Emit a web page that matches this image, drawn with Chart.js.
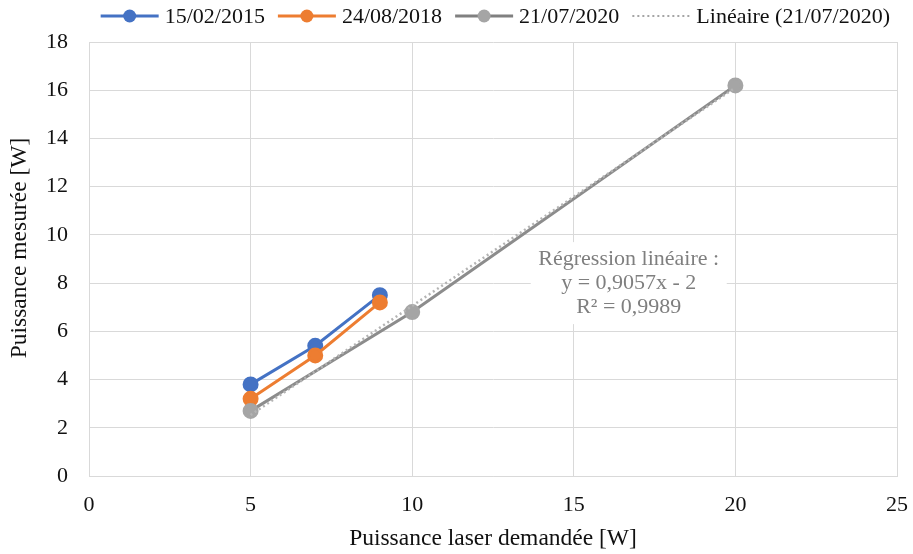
<!DOCTYPE html>
<html lang="fr">
<head>
  <meta charset="UTF-8">
  <title>Puissance laser</title>
  <script src="https://cdn.jsdelivr.net/npm/chart.js"></script>
  <style>
    html, body { margin: 0; padding: 0; background: #fff; }
    #wrap { width: 913px; height: 554px; }
  </style>
</head>
<body>
  <div id="wrap"><canvas id="chart" width="913" height="554"></canvas></div>

  <script>
    // values
    const seriesNames = ['15/02/2015', '24/08/2018', '21/07/2020'];
    const x2015 = [5, 7, 9];
    const y2015 = [3.8, 5.4, 7.5];
    const x2018 = [5, 7, 9];
    const y2018 = [3.2, 5.0, 7.2];
    const x2020 = [5, 10, 20];
    const y2020 = [2.7, 6.8, 16.2];
    const trendName = 'Linéaire (21/07/2020)';
    const trendX = [5, 20];
    const trendY = [2.53, 16.11];
    const noteLines = ['Régression linéaire :', 'y = 0,9057x - 2', 'R² = 0,9989'];
    const xTicks = [0, 5, 10, 15, 20, 25];
    const yTicks = [0, 2, 4, 6, 8, 10, 12, 14, 16, 18];
    const yTitle = 'Puissance mesurée [W]';

    const FONT = '"Liberation Serif", "Times New Roman", serif';

    function pts(xs, ys) {
      return xs.map((x, i) => ({ x: x, y: ys[i] }));
    }

    // legend entries: label, line colour, dot colour, dotted?
    const legendItems = [
      [seriesNames[0], '#4472C4', '#4472C4', false],
      [seriesNames[1], '#ED7D31', '#ED7D31', false],
      [seriesNames[2], '#808080', '#A5A5A5', false],
      [trendName, '#A5A5A5', null, true]
    ];

    // legend drawn by hand (Excel style: line with dot), the y title, and the regression note
    const extrasPlugin = {
      id: 'extras',
      beforeDatasetsDraw(chart) {
        const ctx = chart.ctx;
        const cx = chart.scales.x.getPixelForValue(16.7);
        const cy = chart.scales.y.getPixelForValue(8);
        ctx.save();
        ctx.fillStyle = '#fff';
        ctx.fillRect(cx - 98, cy - 41, 196, 82);
        ctx.font = '22px ' + FONT;
        ctx.fillStyle = '#7F7F7F';
        ctx.textAlign = 'center';
        ctx.textBaseline = 'middle';
        noteLines.forEach((t, i) => ctx.fillText(t, cx, cy + (i - 1) * 24));
        ctx.restore();
      },
      afterDraw(chart) {
        const ctx = chart.ctx;
        const area = chart.chartArea;

        // y axis title, sitting a little above the middle like in Excel
        ctx.save();
        ctx.translate(20, (area.top + area.bottom) / 2 - 11);
        ctx.rotate(-Math.PI / 2);
        ctx.font = '23.5px ' + FONT;
        ctx.fillStyle = '#111';
        ctx.textAlign = 'center';
        ctx.textBaseline = 'middle';
        ctx.fillText(yTitle, 0, 0);
        ctx.restore();

        const iconW = 58, gap = 6, sep = 13, y = 16;
        ctx.save();
        ctx.font = '22px ' + FONT;
        let total = 0;
        legendItems.forEach((it, i) => {
          total += iconW + gap + ctx.measureText(it[0]).width + (i ? sep : 0);
        });
        let x = area.right - 7 - total;
        legendItems.forEach((it) => {
          ctx.strokeStyle = it[1];
          ctx.lineWidth = it[3] ? 2 : 3;
          ctx.setLineDash(it[3] ? [2, 3] : []);
          ctx.beginPath(); ctx.moveTo(x, y); ctx.lineTo(x + iconW, y); ctx.stroke();
          ctx.setLineDash([]);
          if (it[2]) {
            ctx.fillStyle = it[2];
            ctx.beginPath(); ctx.arc(x + iconW / 2, y, 6.5, 0, Math.PI * 2); ctx.fill();
          }
          x += iconW + gap;
          ctx.fillStyle = '#111';
          ctx.textBaseline = 'middle';
          ctx.fillText(it[0], x, y + 1);
          x += ctx.measureText(it[0]).width + sep;
        });
        ctx.restore();
      }
    };

    const ctx = document.getElementById('chart').getContext('2d');
    new Chart(ctx, {
      type: 'scatter',
      data: {
        datasets: [
          {
            label: trendName,
            data: pts(trendX, trendY),
            showLine: true,
            borderColor: '#B4B4B4',
            borderWidth: 2.5,
            borderDash: [2, 3],
            pointRadius: 0,
            order: 0
          },
          {
            label: seriesNames[2],
            data: pts(x2020, y2020),
            showLine: true,
            borderColor: '#8C8C8C',
            borderWidth: 3,
            backgroundColor: '#A5A5A5',
            pointBackgroundColor: '#A5A5A5',
            pointBorderColor: '#A5A5A5',
            pointRadius: 6.5,
            order: 1
          },
          {
            label: seriesNames[1],
            data: pts(x2018, y2018),
            showLine: true,
            borderColor: '#ED7D31',
            borderWidth: 3,
            backgroundColor: '#ED7D31',
            pointRadius: 6.5,
            order: 2
          },
          {
            label: seriesNames[0],
            data: pts(x2015, y2015),
            showLine: true,
            borderColor: '#4472C4',
            borderWidth: 3,
            backgroundColor: '#4472C4',
            pointRadius: 6.5,
            order: 3
          }
        ]
      },
      options: {
        responsive: false,
        animation: false,
        layout: { padding: { top: 42, right: 0, left: 2, bottom: 0 } },
        plugins: {
          tooltip: { enabled: false },
          legend: { display: false }
        },
        scales: {
          x: {
            type: 'linear',
            min: 0,
            max: 25,
            afterBuildTicks(scale) { scale.ticks = xTicks.map(v => ({ value: v })); },
            afterFit(scale) {
              scale.height = 78;
              scale.paddingLeft = 0;
              scale.paddingRight = 16;
            },
            grid: { color: '#D9D9D9', lineWidth: 1, drawTicks: false },
            border: { color: '#D9D9D9', width: 1 },
            ticks: { color: '#111', padding: 16, font: { family: FONT, size: 22 } },
            title: {
              display: true,
              text: 'Puissance laser demandée [W]',
              color: '#111',
              padding: { top: 0, bottom: 1 },
              font: { family: FONT, size: 23.5 }
            }
          },
          y: {
            type: 'linear',
            min: 0,
            max: 18,
            afterBuildTicks(scale) { scale.ticks = yTicks.map(v => ({ value: v })); },
            afterFit(scale) { scale.width = 87; },
            grid: { color: '#D9D9D9', lineWidth: 1, drawTicks: false },
            border: { color: '#D9D9D9', width: 1 },
            ticks: { color: '#111', padding: 21, font: { family: FONT, size: 22 } },
            title: { display: false }
          }
        }
      },
      plugins: [extrasPlugin]
    });
  </script>
</body>
</html>
